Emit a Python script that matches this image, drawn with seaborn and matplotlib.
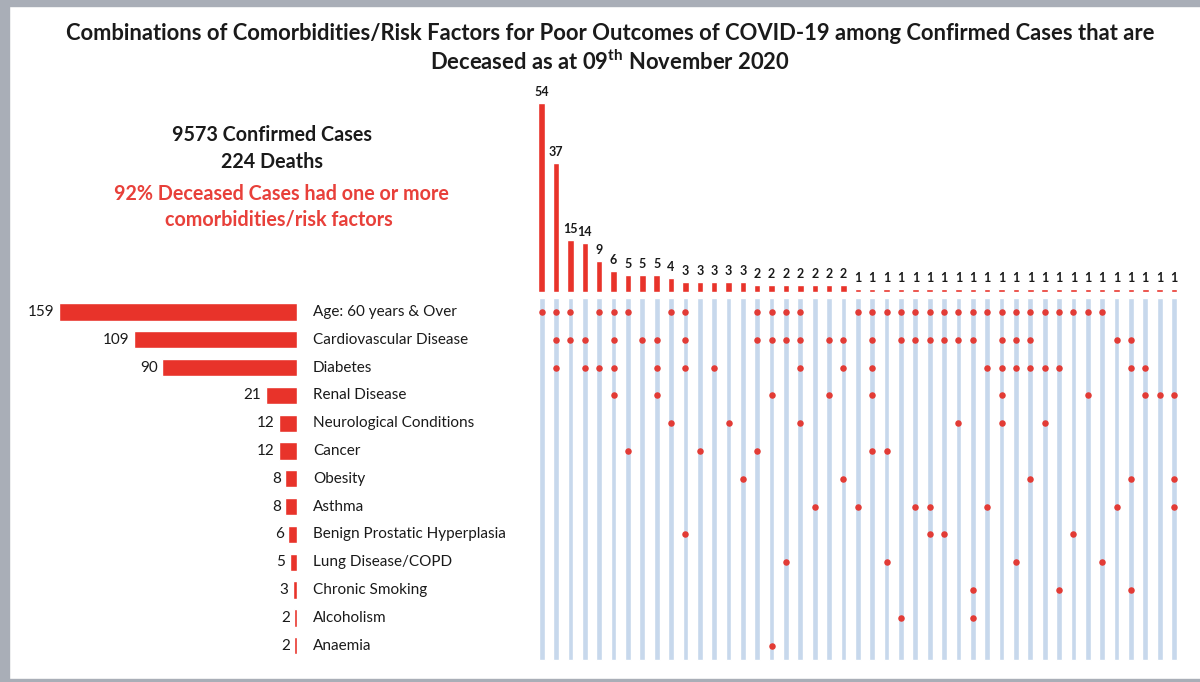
import matplotlib
matplotlib.use("Agg")
import matplotlib.pyplot as plt
import matplotlib.transforms as mtransforms
from matplotlib.patches import Rectangle
import seaborn as sns
import pandas as pd

sns.set_theme(style="white")
plt.rcParams['font.family'] = ['Lato', 'DejaVu Sans']
plt.rcParams['mathtext.fontset'] = 'custom'
plt.rcParams['mathtext.rm'] = 'Lato'
plt.rcParams['mathtext.bf'] = 'Lato:bold'

# ---------------- data ----------------
categories = ["Age: 60 years & Over", "Cardiovascular Disease", "Diabetes", "Renal Disease",
              "Neurological Conditions", "Cancer", "Obesity", "Asthma",
              "Benign Prostatic Hyperplasia", "Lung Disease/COPD", "Chronic Smoking",
              "Alcoholism", "Anaemia"]
category_totals = [159, 109, 90, 21, 12, 12, 8, 8, 6, 5, 3, 2, 2]

combo_counts = [54, 37, 15, 14, 9, 6, 5, 5, 5, 4, 3, 3, 3, 3, 3,
                2, 2, 2, 2, 2, 2, 2,
                1, 1, 1, 1, 1, 1, 1, 1, 1, 1, 1, 1, 1, 1, 1, 1, 1, 1, 1, 1, 1, 1, 1]

# members of each combination (indices into categories)
combo_members = [
    (0,), (0, 1, 2), (0, 1), (1, 2), (0, 2), (0, 1, 2, 3), (0, 5), (1,), (1, 2, 3), (0, 4),
    (0, 1, 2, 8), (5,), (2,), (4,), (6,),
    (0, 1, 5), (0, 1, 3, 12), (0, 1, 9), (0, 1, 2, 4), (7,), (1, 3), (1, 2, 6),
    (0, 7), (0, 1, 2, 3, 5), (0, 5, 9), (0, 1, 11), (0, 1, 7), (0, 1, 7, 8), (0, 1, 8),
    (0, 1, 4), (0, 1, 10, 11), (0, 2, 7), (0, 1, 2, 3, 4), (0, 1, 2, 9), (0, 1, 2, 6),
    (0, 2, 4), (0, 2, 10), (0, 8), (0, 3), (0, 9), (1, 7), (1, 2, 6, 10), (2, 3), (3,),
    (3, 6, 7),
]

title_line1 = "Combinations of Comorbidities/Risk Factors for Poor Outcomes of COVID-19 among Confirmed Cases that are"
title_line2 = r"Deceased as at 09$^{\mathbf{th}}$ November 2020"
info_black = ["9573 Confirmed Cases", "224 Deaths"]
info_red = ["92% Deceased Cases had one or more", "comorbidities/risk factors"]

# ---------------- styling ----------------
RED = "#e8332a"
DOT = "#e23b35"
COLBG = "#c7d8ec"
BORDER = "#a9aeb7"
TXT = "#1a1a1a"

W, H = 1200, 682
fig = plt.figure(figsize=(W / 100, H / 100), dpi=100)
fig.patch.set_facecolor("white")


def fx(x):
    return x / W


def fy(y):
    return 1 - y / H


# border bands
fig.patches.append(Rectangle((0, fy(6)), 1, 6 / H, transform=fig.transFigure, color=BORDER, zorder=0))
fig.patches.append(Rectangle((0, 0), fx(9), 1, transform=fig.transFigure, color=BORDER, zorder=0))
fig.patches.append(Rectangle((0, 0), 1, 3 / H, transform=fig.transFigure, color=BORDER, zorder=0))

# title
fig.text(fx(610), fy(33), title_line1, ha="center", va="center", fontsize=15.8, fontweight="bold", color=TXT)
fig.text(fx(610), fy(62), title_line2, ha="center", va="center", fontsize=15.8, fontweight="bold", color=TXT)

# info text
fig.text(fx(272), fy(135), info_black[0], ha="center", va="center", fontsize=14.2, fontweight="bold", color=TXT)
fig.text(fx(272), fy(162), info_black[1], ha="center", va="center", fontsize=14.2, fontweight="bold", color=TXT)
fig.text(fx(281), fy(194), info_red[0], ha="center", va="center", fontsize=14.2, fontweight="bold", color="#e8403a")
fig.text(fx(279), fy(220), info_red[1], ha="center", va="center", fontsize=14.2, fontweight="bold", color="#e8403a")

# geometry
mat_top, mat_bot = 298, 661
col_left, col_right = 534.5, 1181.2
bar_base, bar_top_px = 292, 85
px_per_unit_top = 3.5
left_x0, left_x1 = 20, 297
px_per_unit_left = 1.497

n_rows = len(categories)
n_cols = len(combo_counts)

# ---------------- left bars ----------------
ax_l = fig.add_axes([fx(left_x0), fy(mat_bot), fx(left_x1) - fx(left_x0), (mat_bot - mat_top) / H])
df_cat = pd.DataFrame({"category": categories, "total": category_totals})
sns.barplot(data=df_cat, x="total", y="category", order=categories, orient="h",
            color=RED, width=0.62, saturation=1, ax=ax_l)
ax_l.set_xlim((left_x1 - left_x0) / px_per_unit_left, 0)
ax_l.set_ylim(n_rows - 0.45, -0.5)
ax_l.axis("off")
trans_lbl = mtransforms.blended_transform_factory(ax_l.transAxes, ax_l.transData)
for i, (cat, v) in enumerate(zip(categories, category_totals)):
    ax_l.text(1 + 16 / (left_x1 - left_x0), i, cat, transform=trans_lbl, ha="left", va="center",
              fontsize=11, color=TXT, clip_on=False)
    ax_l.annotate(str(v), xy=(v, i), xytext=(-3, 0), textcoords="offset points",
                  ha="right", va="center", fontsize=11, color=TXT, annotation_clip=False)

# ---------------- matrix ----------------
ax_m = fig.add_axes([fx(col_left), fy(mat_bot), fx(col_right) - fx(col_left), (mat_bot - mat_top) / H])
ax_m.bar(range(n_cols), [n_rows] * n_cols, bottom=-0.5, width=0.4, color=COLBG, zorder=1)
dots = pd.DataFrame([(c, r) for c, mem in enumerate(combo_members) for r in mem], columns=["col", "row"])
sns.scatterplot(data=dots, x="col", y="row", color=DOT, s=22, linewidth=0, legend=False, ax=ax_m, zorder=3)
ax_m.set_xlim(-0.5, n_cols - 0.5)
ax_m.set_ylim(n_rows - 0.45, -0.5)
ax_m.axis("off")

# ---------------- top bars ----------------
ax_t = fig.add_axes([fx(col_left), fy(bar_base), fx(col_right) - fx(col_left), (bar_base - bar_top_px) / H])
df_combo = pd.DataFrame({"col": list(range(n_cols)), "count": combo_counts})
sns.barplot(data=df_combo, x="col", y="count", color=RED, width=0.45, saturation=1, ax=ax_t)
ax_t.set_xlim(-0.5, n_cols - 0.5)
ax_t.set_ylim(0, (bar_base - bar_top_px) / px_per_unit_top)
ax_t.axis("off")
for i, v in enumerate(combo_counts):
    ax_t.annotate(str(v), xy=(i, v), xytext=(0, 3.5), textcoords="offset points",
                  ha="center", va="bottom", fontsize=9, fontweight="bold", color=TXT,
                  annotation_clip=False)

fig.savefig("out.png", dpi=100, facecolor="white")
